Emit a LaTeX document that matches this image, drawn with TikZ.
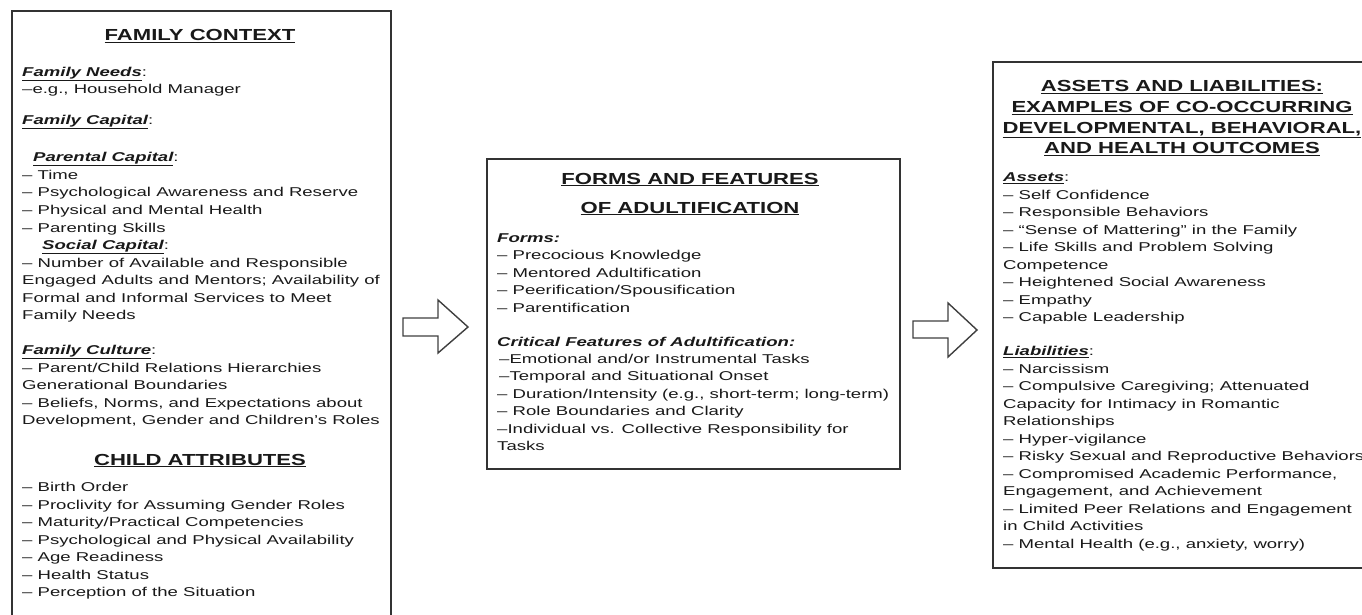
\documentclass[tikz,border=0pt]{standalone}
\usepackage{fontspec}
\setmainfont{Liberation Sans}[FakeStretch=1.45]
\newfontfamily\headfont{Liberation Sans}[FakeStretch=1.38]
\newcommand{\subhd}[1]{\textbf{\textit{\underline{#1}}}}
\newcommand{\myline}[4]{\node[tx] (#1) at (#2,#3+4.5) {#4};}
\newcommand{\myhead}[4]{\node[hd] (#1) at (#2,#3+6) {\underline{#4}};}
\tikzset{
  tx/.style={anchor=base west, inner sep=0pt, text=black!90, font=\fontsize{12.8}{15}\selectfont},
  hd/.style={anchor=base, inner sep=0pt, text=black!90, font=\headfont\bfseries\fontsize{16}{19}\selectfont},
  panel/.style={draw=black!80, line width=2pt, anchor=north west, inner sep=0pt},
  blockarrow/.style={draw=black!75, line width=1.4pt, fill=white, line join=miter},
}
\begin{document}
\begin{tikzpicture}[x=1pt,y=-1pt]
\useasboundingbox (0,0) rectangle (1362,615);
\clip (0,0) rectangle (1362,615);
\fill[white] (0,0) rectangle (1362,615);
% panels
\node[panel, minimum width=379pt, minimum height=640pt] (fam) at (11,10) {};
\node[panel, minimum width=413pt, minimum height=310pt] (forms) at (486,158) {};
\node[panel, minimum width=385pt, minimum height=506pt] (out) at (992,61) {};
% left panel
\myhead{h1}{200}{35}{FAMILY CONTEXT}
\myline{l1}{22}{72}{\subhd{Family Needs}:}
\myline{l2}{22}{89}{–e.g., Household Manager}
\myline{l3}{22}{120}{\subhd{Family Capital}:}
\myline{l4}{33}{157}{\subhd{Parental Capital}:}
\myline{l5}{22}{174.5}{– Time}
\myline{l6}{22}{192}{– Psychological Awareness and Reserve}
\myline{l7}{22}{210}{– Physical and Mental Health}
\myline{l8}{22}{227.5}{– Parenting Skills}
\myline{l9}{42}{245}{\subhd{Social Capital}:}
\myline{l10}{22}{262.5}{– Number of Available and Responsible}
\myline{l11}{22}{280}{Engaged Adults and Mentors; Availability of}
\myline{l12}{22}{297.5}{Formal and Informal Services to Meet}
\myline{l13}{22}{315}{Family Needs}
\myline{l14}{22}{350}{\subhd{Family Culture}:}
\myline{l15}{22}{367.5}{– Parent/Child Relations Hierarchies}
\myline{l16}{22}{385}{Generational Boundaries}
\myline{l17}{22}{402.5}{– Beliefs, Norms, and Expectations about}
\myline{l18}{22}{420}{Development, Gender and Children’s Roles}
\myhead{h2}{200}{459}{CHILD ATTRIBUTES}
\myline{c1}{22}{487}{– Birth Order}
\myline{c2}{22}{504.5}{– Proclivity for Assuming Gender Roles}
\myline{c3}{22}{522}{– Maturity/Practical Competencies}
\myline{c4}{22}{539.5}{– Psychological and Physical Availability}
\myline{c5}{22}{557}{– Age Readiness}
\myline{c6}{22}{574.5}{– Health Status}
\myline{c7}{22}{592}{– Perception of the Situation}
% middle panel
\myhead{h3}{690}{178}{FORMS AND FEATURES}
\myhead{h4}{690}{207}{OF ADULTIFICATION}
\myline{m1}{497}{238}{\textbf{\textit{Forms:}}}
\myline{m2}{497}{255}{– Precocious Knowledge}
\myline{m3}{497}{272.5}{– Mentored Adultification}
\myline{m4}{497}{290}{– Peerification/Spousification}
\myline{m5}{497}{307.5}{– Parentification}
\myline{m6}{497}{342}{\textbf{\textit{Critical Features of Adultification:}}}
\myline{m7}{499}{359}{–Emotional and/or Instrumental Tasks}
\myline{m8}{499}{376}{–Temporal and Situational Onset}
\myline{m9}{497}{393.5}{– Duration/Intensity (e.g., short-term; long-term)}
\myline{m10}{497}{411}{– Role Boundaries and Clarity}
\myline{m11}{497}{428.5}{–Individual vs. Collective Responsibility for}
\myline{m12}{497}{446}{Tasks}
% right panel
\myhead{h5}{1182}{86}{ASSETS AND LIABILITIES:}
\myhead{h6}{1182}{106.5}{EXAMPLES OF CO-OCCURRING}
\myhead{h7}{1182}{127}{DEVELOPMENTAL, BEHAVIORAL,}
\myhead{h8}{1182}{147.5}{AND HEALTH OUTCOMES}
\myline{r1}{1003}{177}{\subhd{Assets}:}
\myline{r2}{1003}{194.5}{– Self Confidence}
\myline{r3}{1003}{212}{– Responsible Behaviors}
\myline{r4}{1003}{229.5}{– “Sense of Mattering” in the Family}
\myline{r5}{1003}{247}{– Life Skills and Problem Solving}
\myline{r6}{1003}{264.5}{Competence}
\myline{r7}{1003}{282}{– Heightened Social Awareness}
\myline{r8}{1003}{299.5}{– Empathy}
\myline{r9}{1003}{317}{– Capable Leadership}
\myline{r10}{1003}{351}{\subhd{Liabilities}:}
\myline{r11}{1003}{368.5}{– Narcissism}
\myline{r12}{1003}{386}{– Compulsive Caregiving; Attenuated}
\myline{r13}{1003}{403.5}{Capacity for Intimacy in Romantic}
\myline{r14}{1003}{421}{Relationships}
\myline{r15}{1003}{438.5}{– Hyper-vigilance}
\myline{r16}{1003}{456}{– Risky Sexual and Reproductive Behaviors}
\myline{r17}{1003}{473.5}{– Compromised Academic Performance,}
\myline{r18}{1003}{491}{Engagement, and Achievement}
\myline{r19}{1003}{508.5}{– Limited Peer Relations and Engagement}
\myline{r20}{1003}{526}{in Child Activities}
\myline{r21}{1003}{543.5}{– Mental Health (e.g., anxiety, worry)}
% block arrows
\draw[blockarrow] (403,318) -- (438,318) -- (438,300) -- (468,327) -- (438,353) -- (438,336) -- (403,336) -- cycle;
\draw[blockarrow] (913,321) -- (948,321) -- (948,303) -- (977,330) -- (948,357) -- (948,338) -- (913,338) -- cycle;
\end{tikzpicture}
\end{document}
